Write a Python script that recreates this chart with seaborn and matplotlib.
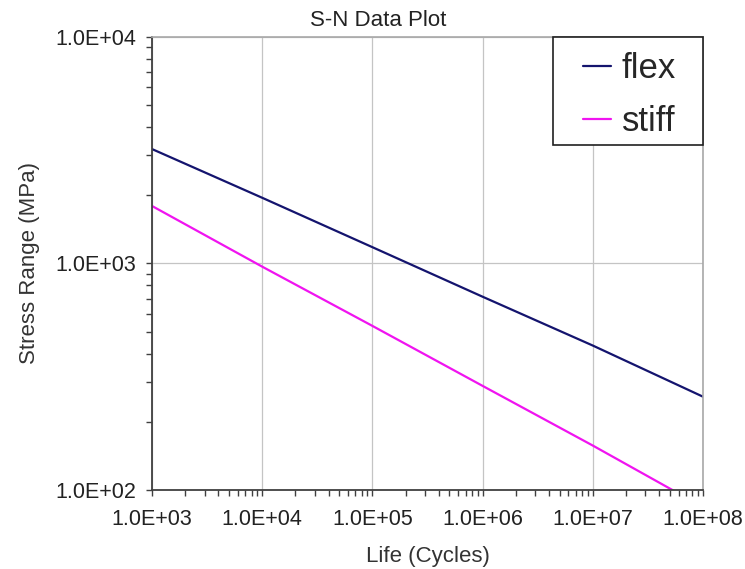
import numpy as np
import pandas as pd
import seaborn as sns
import matplotlib.pyplot as plt
from matplotlib.patches import Rectangle
from matplotlib.ticker import FuncFormatter, LogLocator

# data
cycles = [1e3, 1e4, 1e5, 1e6, 1e7, 1e8]
flex = [3200, 1950, 1180, 713, 434, 258]
stiff = [1794, 968, 530, 288, 157, 84]

df = pd.DataFrame({
    "Life (Cycles)": cycles * 2,
    "Stress Range (MPa)": flex + stiff,
    "series": ["flex"] * len(cycles) + ["stiff"] * len(cycles),
})

sns.set_theme(style="ticks")
plt.rcParams['font.family'] = ['Liberation Sans', 'DejaVu Sans']

fig = plt.figure(figsize=(7.45, 5.69), dpi=100)
ax = fig.add_axes([0.204, 0.139, 0.7396, 0.796])

sns.lineplot(data=df, x="Life (Cycles)", y="Stress Range (MPa)", hue="series",
             palette={"flex": "#14146e", "stiff": "#f014f0"}, linewidth=1.6, ax=ax)

ax.set_xscale("log")
ax.set_yscale("log")
ax.set_xlim(1e3, 1e8)
ax.set_ylim(1e2, 1e4)

fmt = FuncFormatter(lambda v, p: "{:.1E}".format(v))
ax.xaxis.set_major_locator(LogLocator(base=10, numticks=10))
ax.yaxis.set_major_locator(LogLocator(base=10, numticks=10))
ax.xaxis.set_major_formatter(fmt)
ax.yaxis.set_major_formatter(fmt)
ax.xaxis.set_minor_locator(LogLocator(base=10, subs=np.arange(2, 10), numticks=20))
ax.yaxis.set_minor_locator(LogLocator(base=10, subs=np.arange(2, 10), numticks=20))
ax.xaxis.set_minor_formatter(FuncFormatter(lambda v, p: ""))
ax.yaxis.set_minor_formatter(FuncFormatter(lambda v, p: ""))

ax.tick_params(which="both", direction="out", length=4.5, width=1, color="#404040",
               labelsize=15.5, labelcolor="#222222")
ax.tick_params(axis="y", pad=7)
ax.tick_params(axis="x", pad=9)
ax.grid(True, which="major", color="#c4c4c4", linewidth=0.9)
ax.set_axisbelow(True)

for s in ["left", "bottom"]:
    ax.spines[s].set_color("#404040")
    ax.spines[s].set_linewidth(1.3)
for s in ["top", "right"]:
    ax.spines[s].set_visible(True)
    ax.spines[s].set_color("#a8a8a8")
    ax.spines[s].set_linewidth(1.2)

fig.text(0.508, 0.954, "S-N Data Plot", fontsize=16, color="#222222",
         ha="center", va="baseline")
ax.set_xlabel("Life (Cycles)", fontsize=16, color="#333333", va="top")
ax.set_ylabel("Stress Range (MPa)", fontsize=16, color="#333333", va="bottom")
ax.xaxis.set_label_coords(0.5, -0.124)
ax.yaxis.set_label_coords(-0.203, 0.5)

# legend box sits in the top-right corner of the plot
ax.add_patch(Rectangle((0.728, 0.762), 0.272, 0.238, transform=ax.transAxes,
                       facecolor="white", edgecolor="#202020", linewidth=1.2,
                       zorder=5, clip_on=False))
leg = ax.legend(loc="center", bbox_to_anchor=(0.867, 0.872), fontsize=25,
                frameon=False, handlelength=0.8, handletextpad=0.3,
                borderpad=0.0, labelspacing=0.56, title=None)
leg.set_zorder(6)
for line in leg.get_lines():
    line.set_linewidth(1.6)

plt.savefig("out.png", dpi=100)
